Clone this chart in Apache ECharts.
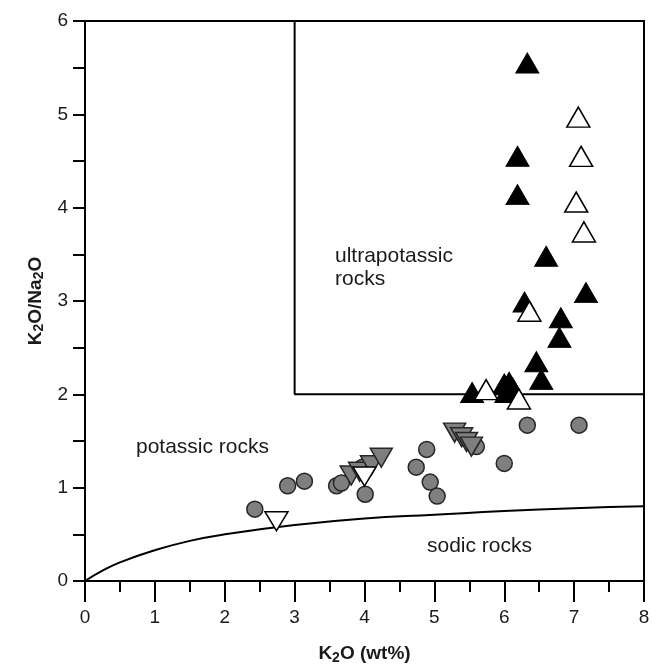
<!DOCTYPE html>
<html>
<head>
<meta charset="utf-8">
<script src="https://cdn.jsdelivr.net/npm/echarts@6/dist/echarts.min.js"></script>
<style>
  html, body { margin: 0; padding: 0; background: #fff; }
  #chart { width: 662px; height: 670px; }
</style>
</head>
<body>
<div id="chart"></div>
<script>
// K2O (wt%) vs K2O/Na2O
var grayCircles = [
  [2.43, 0.77], [2.90, 1.02], [3.14, 1.07], [3.60, 1.02], [3.67, 1.05],
  [3.97, 1.22], [4.01, 0.93], [4.74, 1.22], [4.89, 1.41], [4.94, 1.06],
  [5.04, 0.91], [5.60, 1.44], [6.00, 1.26], [6.33, 1.67], [7.07, 1.67]
];
var grayDown = [
  [3.81, 1.13], [3.93, 1.17], [4.10, 1.24], [4.24, 1.32],
  [5.29, 1.59], [5.39, 1.54], [5.46, 1.49], [5.53, 1.44]
];
var whiteDown = [[2.74, 0.64], [4.00, 1.12]];
var blackUp = [
  [6.33, 5.55], [6.19, 4.55], [6.19, 4.14], [6.60, 3.48], [7.17, 3.09],
  [6.29, 2.99], [6.81, 2.82], [6.79, 2.61], [6.46, 2.35], [6.53, 2.16],
  [5.54, 2.02], [6.00, 2.11], [6.07, 2.13], [6.03, 2.02], [6.12, 2.07]
];
var whiteUp = [
  [7.06, 4.97], [7.10, 4.55], [7.03, 4.06], [7.14, 3.74],
  [6.36, 2.89], [5.74, 2.05], [6.21, 1.95]
];
// sodic / potassic boundary, read at a few K2O values
var boundary = [
  [0, 0], [0.25, 0.11], [0.5, 0.2], [1, 0.33], [1.5, 0.43], [2, 0.5],
  [3, 0.6], [4, 0.67], [5, 0.71], [6, 0.75], [7, 0.78], [8, 0.8]
];
var ultraBox = [[3, 6], [3, 2], [8, 2]];
var xTicks = [0, 8, 1];
var yTicks = [0, 6, 1];

var chart = echarts.init(document.getElementById('chart'));
var font = 'Liberation Sans, Arial, Helvetica, sans-serif';
var txt = '#1a1a1a';
var sub = {
  a: { fontFamily: font, fontSize: 19, fontWeight: 'bold', color: txt },
  s: { fontFamily: font, fontSize: 14, fontWeight: 'bold', color: txt, padding: [8, 0, 0, 0] }
};

chart.setOption({
  animation: false,
  grid: { left: 85, right: 18, top: 21, bottom: 88, show: true, borderColor: '#000', borderWidth: 2 },
  xAxis: {
    type: 'value', min: xTicks[0], max: xTicks[1], interval: xTicks[2],
    name: '{a|K}{s|2}{a|O (wt%)}', nameLocation: 'middle', nameGap: 62,
    nameTextStyle: { rich: sub },
    axisLine: { lineStyle: { color: '#000', width: 2 } },
    axisTick: { inside: false, length: 21, lineStyle: { color: '#000', width: 2 } },
    minorTick: { show: true, splitNumber: 2, length: 11, lineStyle: { color: '#000', width: 2 } },
    axisLabel: { margin: 27, fontFamily: font, fontSize: 19, color: txt },
    splitLine: { show: false }
  },
  yAxis: {
    type: 'value', min: yTicks[0], max: yTicks[1], interval: yTicks[2],
    name: '{a|K}{s|2}{a|O/Na}{s|2}{a|O}', nameLocation: 'middle', nameGap: 36, nameRotate: 90,
    nameTextStyle: { rich: sub },
    axisLine: { lineStyle: { color: '#000', width: 2 } },
    axisTick: { inside: false, length: 12, lineStyle: { color: '#000', width: 2 } },
    minorTick: { show: true, splitNumber: 2, length: 12, lineStyle: { color: '#000', width: 2 } },
    axisLabel: { margin: 17, fontFamily: font, fontSize: 19, color: txt },
    splitLine: { show: false }
  },
  graphic: [
    { type: 'text', left: 335, top: 245, style: { text: 'ultrapotassic\nrocks', font: '21px ' + font, fill: txt, lineHeight: 23 } },
    { type: 'text', left: 136, top: 437, style: { text: 'potassic rocks', font: '21px ' + font, fill: txt } },
    { type: 'text', left: 427, top: 536, style: { text: 'sodic rocks', font: '21px ' + font, fill: txt } }
  ],
  series: [
    {
      type: 'line', data: boundary, smooth: true, symbol: 'none',
      lineStyle: { color: '#000', width: 2 }, z: 2
    },
    {
      type: 'line', data: ultraBox, symbol: 'none',
      lineStyle: { color: '#000', width: 2 }, z: 2
    },
    {
      type: 'scatter', data: grayCircles, symbol: 'circle', symbolSize: 16,
      itemStyle: { color: '#7f7f7f', borderColor: '#262626', borderWidth: 1.5, opacity: 1 }, z: 3
    },
    {
      type: 'scatter', data: grayDown, symbol: 'triangle', symbolRotate: 180, symbolSize: [22, 19],
      itemStyle: { color: '#7f7f7f', borderColor: '#262626', borderWidth: 1.5, opacity: 1 }, z: 4
    },
    {
      type: 'scatter', data: whiteDown, symbol: 'triangle', symbolRotate: 180, symbolSize: [23, 19],
      itemStyle: { color: '#fff', borderColor: '#000', borderWidth: 1.5, opacity: 1 }, z: 5
    },
    {
      type: 'scatter', data: blackUp, symbol: 'triangle', symbolSize: [23, 20],
      itemStyle: { color: '#000', borderColor: '#000', borderWidth: 1, opacity: 1 }, z: 6
    },
    {
      type: 'scatter', data: whiteUp, symbol: 'triangle', symbolSize: [23, 20],
      itemStyle: { color: '#fff', borderColor: '#000', borderWidth: 1.5, opacity: 1 }, z: 7
    }
  ]
});
</script>
</body>
</html>
